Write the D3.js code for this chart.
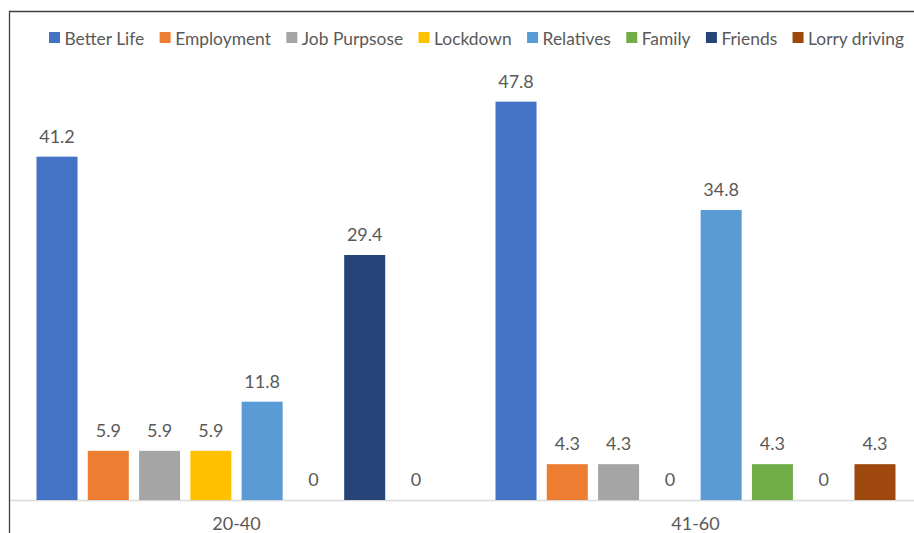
<!DOCTYPE html>
<html>
<head>
<meta charset="utf-8">
<script src="https://cdn.jsdelivr.net/npm/d3@7"></script>
<style>
  html, body { margin: 0; padding: 0; background: #fff; }
  svg { display: block; font-family: Lato, "Open Sans", sans-serif; }
</style>
</head>
<body>
<svg id="chart" width="914" height="533"></svg>
<script>
// Age groups on the x axis
const groups = ["20-40", "41-60"];

// Reasons (one bar series each)
const seriesNames = ["Better Life", "Employment", "Job Purpsose", "Lockdown", "Relatives", "Family", "Friends", "Lorry driving"];
const seriesColors = ["#4472C4", "#ED7D31", "#A5A5A5", "#FFC000", "#5B9BD5", "#70AD47", "#264478", "#9E480E"];

// Percent values per series, in group order
const betterLife   = [41.2, 47.8];
const employment   = [5.9, 4.3];
const jobPurpose   = [5.9, 4.3];
const lockdown     = [5.9, 0];
const relatives    = [11.8, 34.8];
const family       = [0, 4.3];
const friends      = [29.4, 0];
const lorryDriving = [0, 4.3];

const seriesValues = [betterLife, employment, jobPurpose, lockdown, relatives, family, friends, lorryDriving];

const svg = d3.select("#chart");
const W = 914, H = 533;
const textColor = "#595959";

// Chart frame (left and top edges visible)
svg.append("path")
  .attr("d", `M9.5,${H + 2} V11.5 H${W + 2}`)
  .attr("fill", "none")
  .attr("stroke", "#404040")
  .attr("stroke-width", 1.3);

// Scales
const x0 = d3.scaleBand()
  .domain(groups)
  .range([7, 925])
  .paddingInner(59 / 459)
  .paddingOuter(29.5 / 459);

const x1 = d3.scaleBand()
  .domain(seriesNames)
  .range([0, x0.bandwidth()])
  .paddingInner(0.2)
  .paddingOuter(0);

const y = d3.scaleLinear().domain([0, 60]).range([500, 0]);

// Baseline
svg.append("line")
  .attr("x1", 10).attr("x2", W)
  .attr("y1", y(0) + 0.5).attr("y2", y(0) + 0.5)
  .attr("stroke", "#D9D9D9")
  .attr("stroke-width", 1.3);

// Bars and value labels
const rows = [];
seriesNames.forEach((name, si) => {
  groups.forEach((g, gi) => {
    rows.push({ group: g, name, color: seriesColors[si], value: seriesValues[si][gi] });
  });
});

const barG = svg.append("g");
barG.selectAll("rect")
  .data(rows.filter(d => d.value > 0))
  .join("rect")
  .attr("x", d => x0(d.group) + x1(d.name))
  .attr("y", d => y(d.value))
  .attr("width", x1.bandwidth())
  .attr("height", d => y(0) - y(d.value))
  .attr("fill", d => d.color);

barG.selectAll("text")
  .data(rows)
  .join("text")
  .attr("x", d => x0(d.group) + x1(d.name) + x1.bandwidth() / 2)
  .attr("y", d => y(d.value) - 14)
  .attr("text-anchor", "middle")
  .attr("font-size", 18)
  .attr("fill", textColor)
  .text(d => d3.format("")(d.value));

// Category axis labels
const xAxis = d3.axisBottom(x0).tickSize(0).tickPadding(0);
const axG = svg.append("g")
  .attr("transform", `translate(0,${y(0)})`)
  .call(xAxis);
axG.select(".domain").remove();
axG.selectAll("text")
  .attr("font-size", 18)
  .attr("font-family", "Lato, 'Open Sans', sans-serif")
  .attr("fill", textColor)
  .attr("dy", null)
  .attr("y", 30);

// Legend: one row spread between its left and right ends
const legendLeft = 49, legendRight = 904, markerGap = 15.5;
const legend = svg.append("g");
const items = seriesNames.map((name, i) => {
  const item = legend.append("g");
  item.append("rect")
    .attr("x", 0).attr("y", 32)
    .attr("width", 11).attr("height", 11)
    .attr("fill", seriesColors[i]);
  const t = item.append("text")
    .attr("x", markerGap).attr("y", 44.5)
    .attr("font-size", 17.4)
    .attr("fill", textColor)
    .text(name);
  return { item, w: markerGap + t.node().getComputedTextLength() };
});
const used = d3.sum(items, d => d.w);
const gap = (legendRight - legendLeft - used) / (items.length - 1);
let lx = legendLeft;
items.forEach(d => {
  d.item.attr("transform", `translate(${lx},0)`);
  lx += d.w + gap;
});
</script>
</body>
</html>
